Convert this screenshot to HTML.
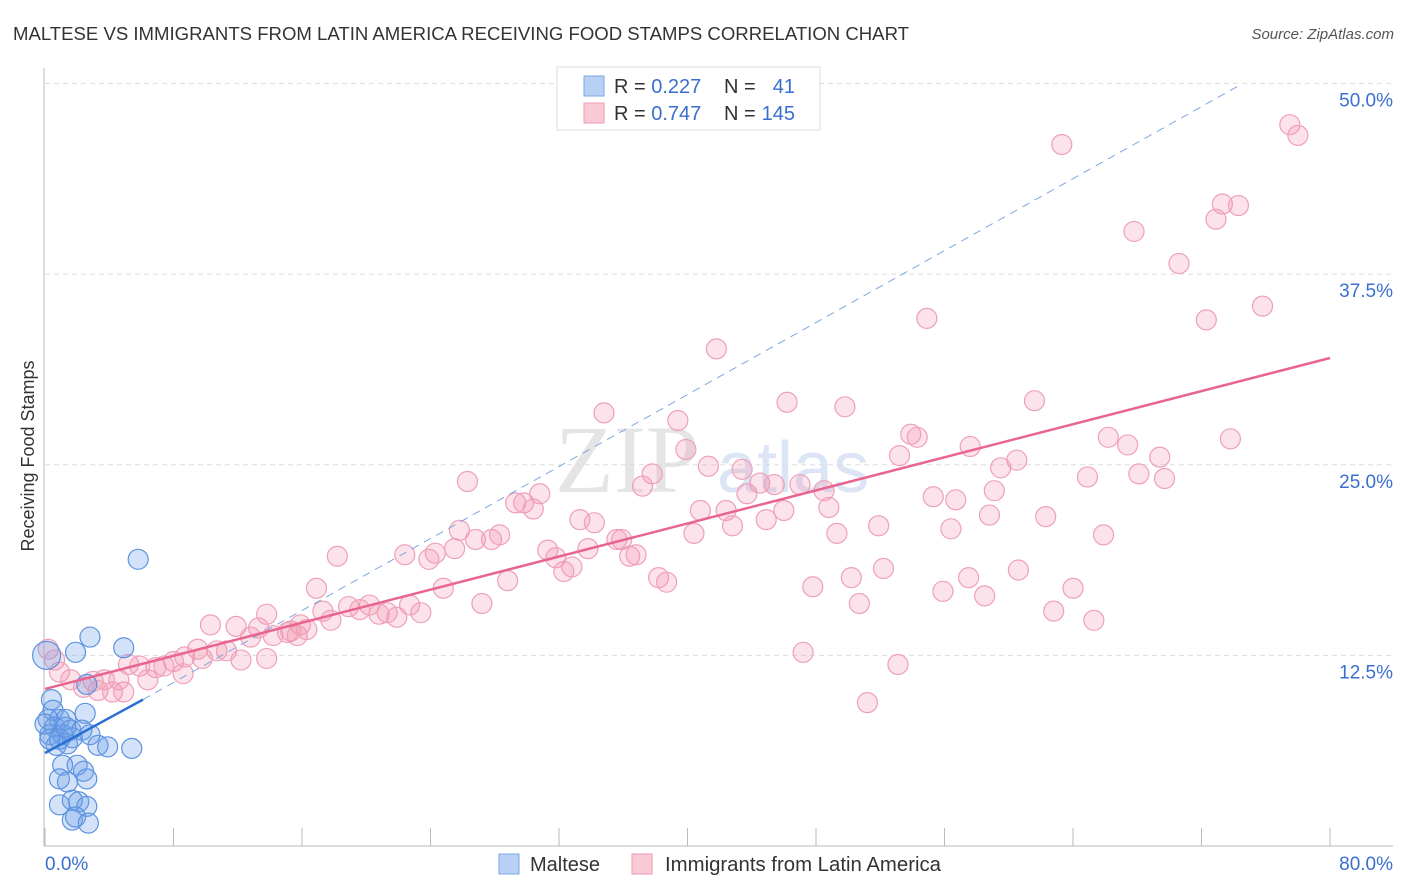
<!DOCTYPE html>
<html><head><meta charset="utf-8">
<style>
html,body{margin:0;padding:0;background:#fff;}
svg{display:block;font-family:"Liberation Sans",sans-serif;}
</style></head>
<body>
<svg id="chart" width="1406" height="892" viewBox="0 0 1406 892" xmlns="http://www.w3.org/2000/svg">
<text x="13" y="40" font-size="18" fill="#333" textLength="896" lengthAdjust="spacingAndGlyphs">MALTESE VS IMMIGRANTS FROM LATIN AMERICA RECEIVING FOOD STAMPS CORRELATION CHART</text>
<text x="1394" y="39" font-size="15" fill="#555" font-style="italic" text-anchor="end">Source: ZipAtlas.com</text>
<g opacity="0.5">
<text x="555" y="492" font-family="Liberation Serif,serif" font-size="96" fill="#ccc">ZIP</text>
<text x="717" y="492" font-size="72" fill="#b8cdec">atlas</text>
</g>
<g id="grid"></g>
<g id="axes"></g>
<g id="marks"></g>
<g id="trend"></g>
<text transform="translate(34,456) rotate(-90)" font-size="18" fill="#333" text-anchor="middle">Receiving Food Stamps</text>
<g>
<rect x="557" y="67" width="263" height="63" fill="#fff" stroke="#ddd"/>
<rect x="584" y="76" width="20" height="20" fill="#b8d0f4" stroke="#7aa6e6"/>
<rect x="584" y="103" width="20" height="20" fill="#f9c9d6" stroke="#ee9ab4"/>
<text x="614" y="93" font-size="20" fill="#333">R = <tspan fill="#3a6fd0">0.227</tspan></text>
<text x="724" y="93" font-size="20" fill="#333">N =</text>
<text x="795" y="93" font-size="20" fill="#3a6fd0" text-anchor="end">41</text>
<text x="614" y="120" font-size="20" fill="#333">R = <tspan fill="#3a6fd0">0.747</tspan></text>
<text x="724" y="120" font-size="20" fill="#333">N =</text>
<text x="795" y="120" font-size="20" fill="#3a6fd0" text-anchor="end">145</text>
</g>
<g>
<rect x="499" y="854" width="20" height="20" fill="#b8d0f4" stroke="#7aa6e6"/>
<text x="530" y="871" font-size="20" fill="#333">Maltese</text>
<rect x="632" y="854" width="20" height="20" fill="#f9c9d6" stroke="#ee9ab4"/>
<text x="665" y="871" font-size="20" fill="#333" textLength="276" lengthAdjust="spacingAndGlyphs">Immigrants from Latin America</text>
</g>
</svg>
<script>
const xTicks=[0,8,16,24,32,40,48,56,64,72,80];
const yTicks=[12.5,25,37.5,50];
const yTickLabels=["12.5%","25.0%","37.5%","50.0%"];
const xEndLabels=["0.0%","80.0%"];
const malteseX=[5.8,2.8,4.9,1.9,2.6,0.4,0.5,2.5,0.2,0.9,1.3,0.6,1.6,2.3,0.3,1.1,0.7,1.4,3.3,3.9,5.4,2.8,2.0,1.1,2.4,2.6,0.9,1.4,1.7,0.9,2.1,2.6,1.7,1.9,2.7,0.3,0.9,1.7,0.0,1.3,0.1];
const malteseY=[18.8,13.7,13.0,12.7,10.6,9.6,8.9,8.7,8.3,8.3,8.3,7.8,7.6,7.6,7.3,7.3,6.6,6.7,6.6,6.5,6.4,7.3,5.3,5.3,4.9,4.4,4.4,4.2,3.0,2.7,2.9,2.6,1.7,1.9,1.5,7.0,7.0,7.1,8.0,7.8,12.5];
const latinX=[63.3,77.5,78.0,73.3,74.3,72.9,67.8,70.6,75.8,72.3,54.9,41.8,61.6,46.2,49.8,34.8,39.4,53.9,54.3,66.2,67.4,73.8,57.6,39.9,53.2,60.5,69.4,41.3,43.4,37.8,59.5,64.9,68.1,69.7,26.3,37.2,44.5,45.4,47.0,48.5,43.7,30.8,29.3,29.8,30.4,55.3,56.7,59.1,48.8,40.8,42.4,46.0,44.9,58.8,62.3,51.9,25.8,33.3,34.2,42.8,56.4,49.3,40.4,65.9,26.8,27.8,28.3,25.5,35.6,35.9,31.3,33.8,24.3,22.4,18.2,23.9,31.8,32.8,32.3,36.4,36.8,52.2,38.2,38.7,28.8,50.2,57.5,60.6,16.9,24.8,47.8,55.9,58.5,64.0,27.2,50.7,62.8,65.3,13.8,17.3,18.9,20.2,19.6,22.7,21.3,20.8,21.9,23.4,17.8,15.3,15.9,15.7,10.3,11.9,13.3,16.3,12.8,15.1,14.2,9.5,10.7,11.3,12.2,13.8,8.7,9.8,8.0,7.4,6.9,5.2,5.9,8.6,6.4,47.2,53.1,51.2,0.6,0.9,1.6,3.0,3.7,2.4,3.3,4.2,4.9,0.2,4.6];
const latinY=[46.0,47.3,46.6,42.1,42.0,41.1,40.3,38.2,35.4,34.5,34.6,32.6,29.2,29.1,28.8,28.4,27.9,27.0,26.8,26.8,26.3,26.7,26.2,26.0,25.6,25.3,25.5,24.9,24.7,24.4,24.8,24.2,24.4,24.1,23.9,23.6,23.8,23.7,23.7,23.3,23.1,23.1,22.5,22.5,22.1,22.9,22.7,23.3,22.2,22.0,22.0,22.0,21.4,21.7,21.6,21.0,20.7,21.4,21.2,21.0,20.8,20.5,20.5,20.4,20.1,20.1,20.4,19.5,20.1,20.1,19.4,19.5,19.2,19.1,19.0,18.8,18.9,18.3,18.0,19.0,19.1,18.2,17.6,17.3,17.4,17.6,17.6,18.1,16.9,16.9,17.0,16.7,16.4,16.9,15.9,15.9,15.4,14.8,15.2,15.4,15.7,15.8,15.5,15.8,15.3,15.2,15.0,15.3,14.8,14.1,14.5,13.8,14.5,14.4,14.3,14.2,13.7,14.0,13.8,12.9,12.8,12.8,12.2,12.3,12.4,12.3,12.1,11.8,11.7,11.9,11.8,11.3,10.9,12.7,11.9,9.4,12.2,11.4,10.9,10.8,10.9,10.4,10.2,10.1,10.1,12.9,10.9];
const latinTrendX=[0,80];
const latinTrendY=[10.3,32.0];
const malteseTrendX=[0,6.1];
const malteseTrendY=[6.1,9.6];
const malteseDashX=[6.1,74.4];
const malteseDashY=[9.6,49.9];

const NS="http://www.w3.org/2000/svg";
const X0=45,X1=1330,Y0=846,PXPERPCT=15.25;
function xs(v){return X0+(v-0)/(80-0)*(X1-X0);}
function ys(v){return Y0-v*PXPERPCT;}
function mk(tag,attrs,parent){const e=document.createElementNS(NS,tag);for(const k in attrs)e.setAttribute(k,attrs[k]);parent.appendChild(e);return e;}

const grid=document.getElementById('grid');
yTicks.forEach((t,i)=>{
  const l=mk('line',{x1:45,x2:1393,y1:ys(t),y2:ys(t),stroke:'#ddd','stroke-dasharray':'5,4'},grid);
  
  
  const tx=mk('text',{x:1393,y:ys(t)+23,'font-size':19,fill:'#3a6fd0','text-anchor':'end'},grid);
  tx.textContent=yTickLabels[i];
  
  
});
const axes=document.getElementById('axes');
const ya=mk('line',{x1:44,x2:44,y1:68,y2:Y0,stroke:'#bbb'},axes);


const xa=mk('line',{x1:44,x2:1393,y1:Y0,y2:Y0,stroke:'#bbb'},axes);


xTicks.forEach(t=>{
  const l=mk('line',{x1:xs(t),x2:xs(t),y1:Y0,y2:Y0-18,stroke:'#bbb'},axes);
  
  
});
const xl0=mk('text',{x:45,y:870,'font-size':19,fill:'#3a6fd0'},axes);
xl0.textContent=xEndLabels[0];


const xl1=mk('text',{x:1393,y:870,'font-size':19,fill:'#3a6fd0','text-anchor':'end'},axes);
xl1.textContent=xEndLabels[1];



const marks=document.getElementById('marks');
latinX.forEach((v,i)=>{
  const c=mk('circle',{cx:xs(v),cy:ys(latinY[i]),r:10,fill:'rgba(244,150,180,0.28)',stroke:'#eea0b8','stroke-width':1.2},marks);
  
  
});
malteseX.forEach((v,i)=>{
  const c=mk('circle',{cx:xs(v),cy:ys(malteseY[i]),r:i===malteseX.length-1?14:10,fill:'rgba(110,160,232,0.3)',stroke:'#5b93e0','stroke-width':1.2},marks);
  
  
});
const trend=document.getElementById('trend');
const d1=mk('line',{x1:xs(malteseDashX[0]),y1:ys(malteseDashY[0]),x2:xs(malteseDashX[1]),y2:ys(malteseDashY[1]),stroke:'#7ea6e2','stroke-width':1,'stroke-dasharray':'8,6'},trend);


const t1=mk('line',{x1:xs(latinTrendX[0]),y1:ys(latinTrendY[0]),x2:xs(latinTrendX[1]),y2:ys(latinTrendY[1]),stroke:'#e8658f','stroke-width':2.5},trend);


const t2=mk('line',{x1:xs(malteseTrendX[0]),y1:ys(malteseTrendY[0]),x2:xs(malteseTrendX[1]),y2:ys(malteseTrendY[1]),stroke:'#2a6fd6','stroke-width':2.5},trend);


</script>
</body></html>
